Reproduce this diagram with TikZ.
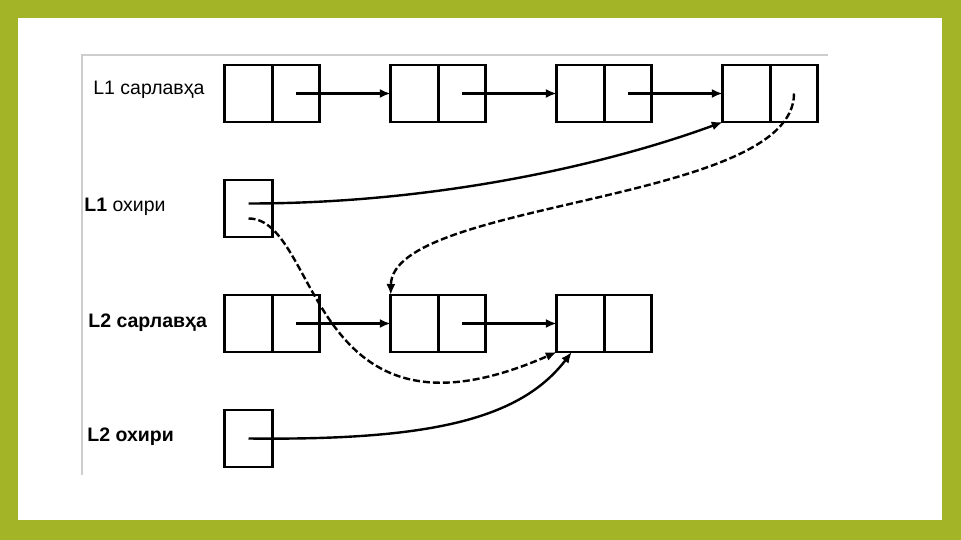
\documentclass[tikz,border=0pt]{standalone}
\usepackage{fontspec}
\setmainfont{Liberation Sans}
\usetikzlibrary{positioning, arrows.meta}
\definecolor{frame}{RGB}{163,180,38}
\definecolor{rule}{RGB}{205,205,205}

\begin{document}
\begin{tikzpicture}[x=1pt, y=-1pt, thick, >={Latex[length=11pt,width=9pt]}]
  \tikzstyle{cell} = [draw, line width=2.8pt, minimum width=47.5pt, minimum height=57pt, inner sep=0pt, outer sep=0pt]
  \tikzstyle{link} = [line width=2.4pt, ->]
  \tikzstyle{back} = [line width=2.4pt, ->, dash pattern=on 7pt off 3pt]
  \tikzstyle{lbl} = [anchor=west, inner sep=0pt, font=\fontsize{19.5}{19.5}\selectfont]

  % slide frame
  \useasboundingbox (0,0) rectangle (961,540);
  \fill[frame] (0,0) rectangle (961,540);
  \fill[white] (18,18) rectangle (942,520);
  \draw[rule, line width=1.5pt] (828,55) -- (82,55) -- (82,475);

  % L1 list (data cell + pointer cell)
  \foreach \i/\x in {1/248.5, 2/414.5, 3/580.5, 4/746.5} {
    \node[cell] (l1n\i) at (\x,93.5) {};
    \node[cell, right=0pt of l1n\i] (l1p\i) {};
  }

  % L2 list
  \foreach \i/\x in {1/248.5, 2/414.5, 3/580.5} {
    \node[cell] (l2n\i) at (\x,323.5) {};
    \node[cell, right=0pt of l2n\i] (l2p\i) {};
  }

  % tail pointers
  \node[cell] (l1tail) at (248.5,208.5) {};
  \node[cell] (l2tail) at (248.5,438.5) {};

  % labels
  \node[lbl] (l1headlbl) at (93,90) {L1 сарлавҳа};
  \node[lbl] (l1taillbl) at (84,207) {\textbf{L1} охири};
  \node[lbl] (l2headlbl) at (88,323) {\textbf{L2 сарлавҳа}};
  \node[lbl] (l2taillbl) at (87,437) {\textbf{L2 охири}};

  % links inside the lists
  \foreach \i/\j in {1/2, 2/3, 3/4}
    \draw[link] (l1p\i.center) -- (l1n\j.west);
  \foreach \i/\j in {1/2, 2/3}
    \draw[link] (l2p\i.center) -- (l2n\j.west);

  % joining the lists
  \draw[link] ([yshift=5pt]l1tail.center) .. controls +(200,0) and +(-103,38) .. (l1n4.south west);
  \draw[back] (l1p4.center) .. controls +(0,110) and +(1,-95) .. (l2n2.north west);
  \draw[back] ([yshift=-10pt]l1tail.center) .. controls +(72,0) and +(-250,110) .. (l2n3.south west);
  \draw[link] (l2tail.center) .. controls +(180,2) and +(-52,68) .. ([xshift=15pt]l2n3.south west);
\end{tikzpicture}
\end{document}
